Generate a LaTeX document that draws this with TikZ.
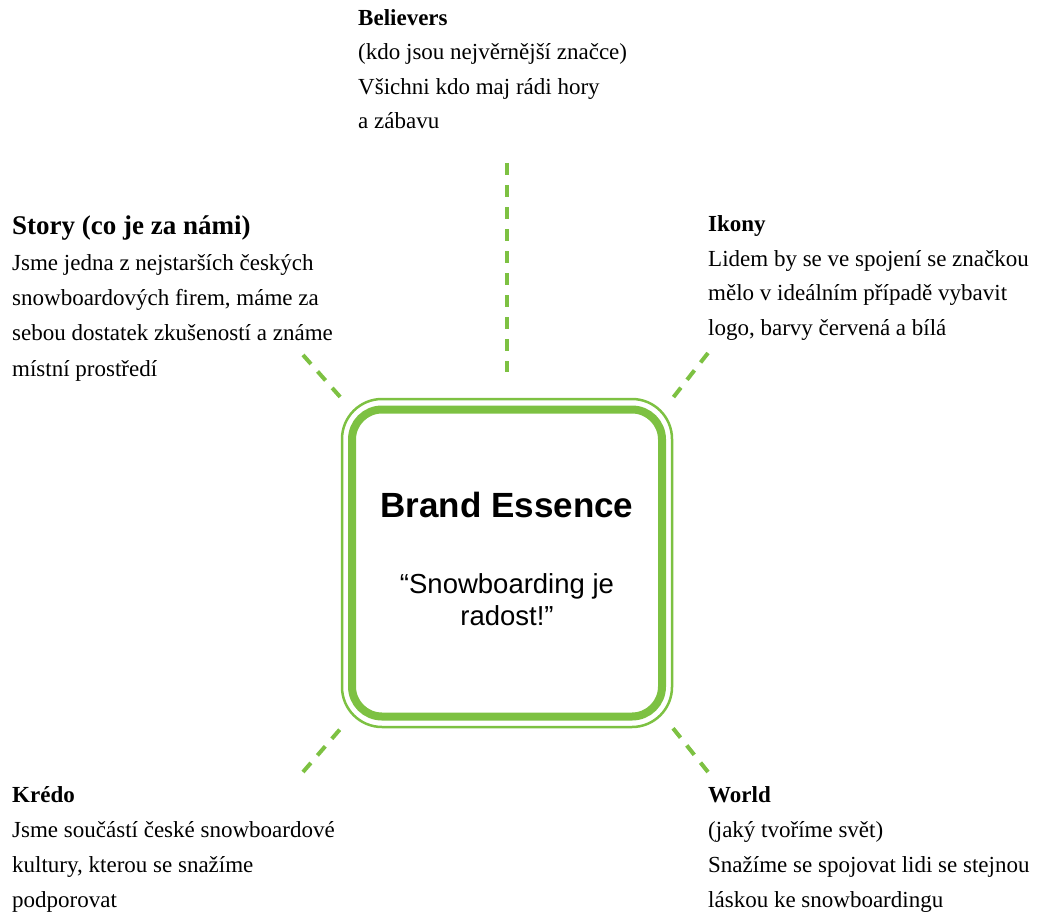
\documentclass[tikz,border=0pt]{standalone}
\usepackage{fontspec}
\setmainfont{Liberation Serif}
\newfontfamily\essencefont{Liberation Sans}
\usetikzlibrary{positioning}
\definecolor{leafgreen}{RGB}{125,193,66}

\begin{document}
\begin{tikzpicture}[x=1pt,y=1pt]
\tikzstyle{ring}=[rectangle, rounded corners=40pt, minimum width=330pt, minimum height=328pt, line width=2.5pt, draw=leafgreen, outer sep=0pt]
\tikzstyle{essence}=[rectangle, rounded corners=30pt, minimum width=310pt, minimum height=307pt, line width=8pt, draw=leafgreen, outer sep=0pt]
\tikzstyle{block}=[anchor=base west, inner sep=0pt, align=left, font=\fontsize{23}{34.5}\selectfont]
\tikzstyle{connect}=[draw=leafgreen, line width=4pt, dash pattern=on 12pt off 10pt]
\useasboundingbox (0,0) rectangle (1043,-912);
\node[ring] (ring) at (507,-563) {};
\node[essence] (essence) at (507,-563) {};
\node[anchor=base, inner sep=0pt, font=\essencefont\bfseries\fontsize{35}{40}\selectfont] (brand) at (507,-517) {Brand Essence};
\node[anchor=base, inner sep=0pt, align=center, font=\essencefont\fontsize{27.5}{32}\selectfont] (motto) at (507,-625) {“Snowboarding je\\radost!”};
% text blocks, anchored at the baseline of their last line
\node[block] (believers) at (358,-129) {\textbf{Believers}\\(kdo jsou nejvěrnější značce)\\Všichni kdo maj rádi hory\\a zábavu};
\node[block, font=\fontsize{23}{35.3}\selectfont] (story) at (12,-376) {{\fontsize{27}{35.3}\selectfont\bfseries Story (co je za námi)}\\Jsme jedna z nejstarších českých\\snowboardových firem, máme za\\sebou dostatek zkušeností a známe\\místní prostředí};
\node[block] (ikony) at (708,-335) {\textbf{Ikony}\\Lidem by se ve spojení se značkou\\mělo v ideálním případě vybavit\\logo, barvy červená a bílá};
\node[block, font=\fontsize{23}{35}\selectfont] (kredo) at (12,-907) {\textbf{Krédo}\\Jsme součástí české snowboardové\\kultury, kterou se snažíme\\podporovat};
\node[block, font=\fontsize{23}{35}\selectfont] (world) at (708,-907) {\textbf{World}\\(jaký tvoříme svět)\\Snažíme se spojovat lidi se stejnou\\láskou ke snowboardingu};
\coordinate (top-tip) at (507,-163);
\coordinate (tl-tip) at (303,-355);
\coordinate (tr-tip) at (708,-353);
\coordinate (bl-tip) at (303,-772);
\coordinate (br-tip) at (708,-772);
\draw[connect, shorten >=27pt] (top-tip) -- (ring.north);
\draw[connect] (tl-tip) -- (ring.north west);
\draw[connect] (tr-tip) -- (ring.north east);
\draw[connect] (bl-tip) -- (ring.south west);
\draw[connect] (br-tip) -- (ring.south east);
\end{tikzpicture}
\end{document}
